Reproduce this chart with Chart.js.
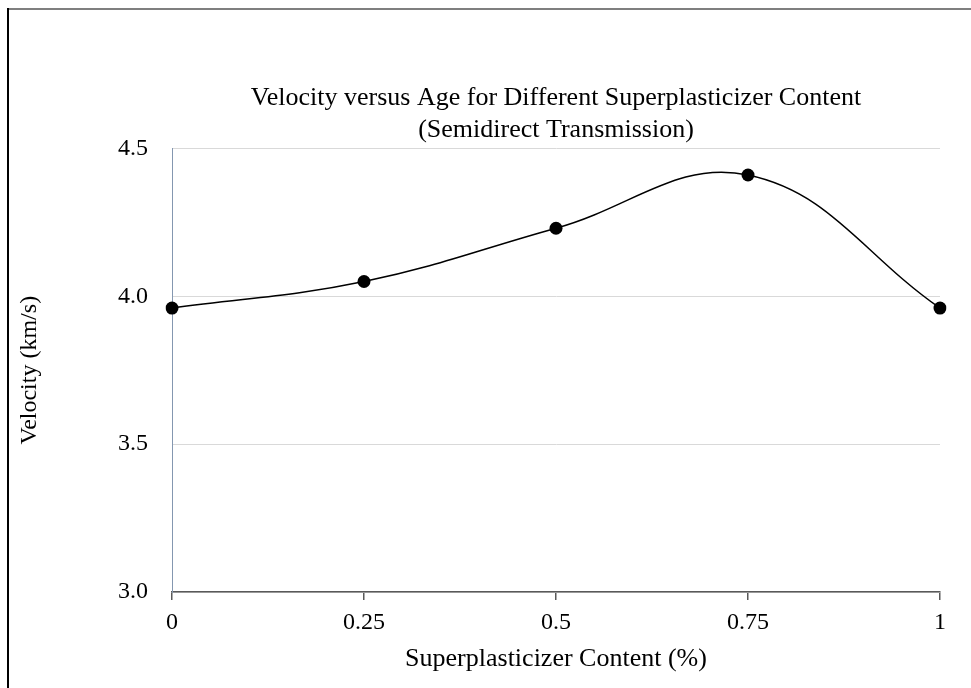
<!DOCTYPE html>
<html>
<head>
<meta charset="utf-8">
<script src="https://cdn.jsdelivr.net/npm/chart.js@4"></script>
<style>
  body { margin:0; background:#fff; }
  #wrap { position:relative; width:971px; height:688px; }
  #frameTop { position:absolute; left:8px; top:8px; width:963px; height:2px; background:#7f7f7f; }
  #frameLeft { position:absolute; left:7px; top:8px; width:2px; height:680px; background:#000; }
</style>
</head>
<body>
<div id="wrap">
  <canvas id="myChart" width="971" height="688"></canvas>
  <div id="frameTop"></div>
  <div id="frameLeft"></div>
</div>
<script>
var labels = ["0", "0.25", "0.5", "0.75", "1"];
var velocity = [3.96, 4.05, 4.23, 4.41, 3.96];
var titleLines = ["Velocity versus Age for Different Superplasticizer Content", "(Semidirect Transmission)"];
var xTitle = "Superplasticizer Content (%)";
var yTitle = "Velocity (km/s)";

var serif = "'Liberation Serif', 'Times New Roman', serif";

var charts = document.querySelector("#myChart").getContext('2d');
new Chart(charts, {
  type: 'line',
  data: {
    labels: labels,
    datasets: [{
      label: "Velocity",
      data: velocity,
      borderColor: '#000000',
      backgroundColor: '#000000',
      borderWidth: 1.5,
      tension: 0.4,
      pointRadius: 6.5,
      pointBorderWidth: 0,
    }],
  },
  options: {
    responsive: false,
    animation: false,
    layout: { padding: { top: 0, left: 15, right: 31, bottom: 13 } },
    plugins: {
      legend: { display: false },
      tooltip: { enabled: false },
      title: {
        display: true,
        fullSize: false,
        text: titleLines,
        color: '#000',
        font: { family: serif, size: 26, weight: 'normal', lineHeight: 1.2 },
        padding: { top: 83, bottom: 3 }
      }
    },
    scales: {
      x: {
        offset: false,
        grid: { drawOnChartArea: false, drawTicks: true, tickLength: 8, color: '#595959', lineWidth: 1.5 },
        border: { color: '#595959', width: 1.5 },
        ticks: { color: '#000', padding: 8, maxRotation: 0, font: { family: serif, size: 24 } },
        title: { display: true, text: xTitle, color: '#000', padding: 0, font: { family: serif, size: 26, lineHeight: 1.2 } },
        afterFit: function(s){ s.height = 688 - 592 - 13; }
      },
      y: {
        min: 3.0,
        max: 4.5,
        grid: { color: '#d9d9d9', lineWidth: 1, drawTicks: false },
        border: { color: '#8497b0', width: 1 },
        ticks: { stepSize: 0.5, color: '#000', padding: 24, font: { family: serif, size: 24 },
          callback: function(v){ return Number(v).toFixed(1); } },
        title: { display: true, text: yTitle, color: '#000', padding: 0, font: { family: serif, size: 24, lineHeight: 1.2 } },
        afterFit: function(s){ s.width = 172 - 15; }
      }
    }
  }
})
</script>
</body>
</html>
